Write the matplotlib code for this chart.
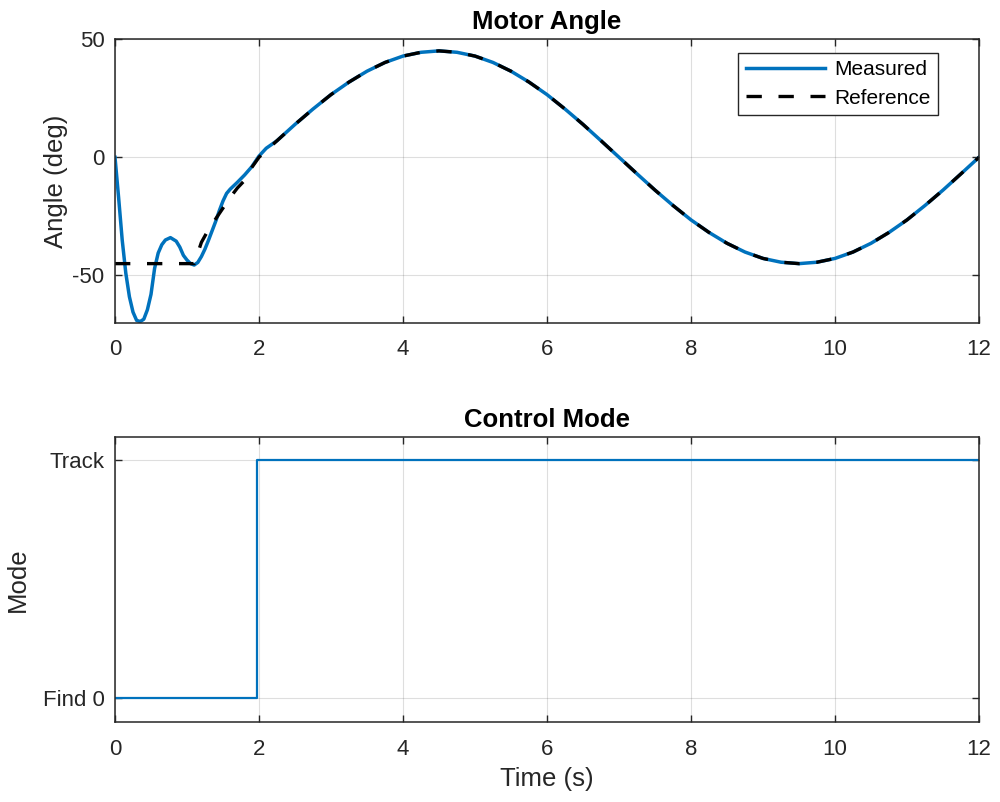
import matplotlib
matplotlib.use("Agg")
import matplotlib.pyplot as plt

plt.rcParams['font.family'] = ['Liberation Sans', 'DejaVu Sans']
plt.rcParams['axes.unicode_minus'] = False

# start-up phase (find zero)
meas_t0 = [0, 0.05, 0.1, 0.15, 0.2, 0.25, 0.3, 0.35, 0.4, 0.45, 0.5, 0.55,
           0.6, 0.65, 0.7, 0.77, 0.85, 0.9, 0.95, 1.0, 1.05, 1.1, 1.15, 1.2,
           1.25, 1.3, 1.35, 1.4, 1.45, 1.5, 1.55, 1.6, 1.7, 1.8, 1.9, 2.0, 2.1]
meas_v0 = [0, -17, -35, -49, -59, -65.5, -69, -69.5, -68.5, -64.5, -58, -47,
           -40.5, -37, -35, -34, -35.5, -38, -41.5, -43.5, -45, -45.6, -44.5, -42,
           -38.8, -35, -31, -27, -22.5, -18.5, -15.3, -13.5, -10.6, -7.5, -4, 0.5, 3.8]

ref_t0 = [0, 1.1, 1.15, 1.2, 1.3, 1.4, 1.5, 1.6, 1.7, 1.8, 1.9, 2.0, 2.1]
ref_v0 = [-45, -45, -40.5, -36, -30.5, -26, -21.5, -17, -13, -9.8, -4.3, 0, 2.8]

# tracking phase, measured and reference lie on top of each other
track_t = [2.25, 2.5, 2.75, 3.0, 3.25, 3.5, 3.75, 4.0, 4.25, 4.5, 4.75, 5.0,
           5.25, 5.5, 5.75, 6.0, 6.25, 6.5, 6.75, 7.0, 7.25, 7.5, 7.75, 8.0,
           8.25, 8.5, 8.75, 9.0, 9.25, 9.5, 9.75, 10.0, 10.25, 10.5, 10.75, 11.0,
           11.25, 11.5, 11.75, 12.0]
track_v = [7.0, 13.9, 20.4, 26.5, 31.8, 36.4, 40.1, 42.8, 44.4, 45.0, 44.4, 42.8,
           40.1, 36.4, 31.8, 26.5, 20.4, 13.9, 7.0, 0.0, -7.0, -13.9, -20.4, -26.5,
           -31.8, -36.4, -40.1, -42.8, -44.4, -45.0, -44.4, -42.8, -40.1, -36.4, -31.8, -26.5,
           -20.4, -13.9, -7.0, 0.0]

meas_t = meas_t0 + track_t
meas_v = meas_v0 + track_v
ref_t = ref_t0 + track_t
ref_v = ref_v0 + track_v

mode_t = [0, 1.97, 12]
mode_v = [0, 1, 1]
mode_labels = ['Find 0', 'Track']

blue = '#0072BD'
dark = '#262626'

fig = plt.figure(figsize=(10, 8.02), dpi=100)
ax1 = fig.add_axes([0.115, 0.5976, 0.864, 0.3537])
ax2 = fig.add_axes([0.115, 0.0994, 0.864, 0.3561])

ax1.plot(meas_t, meas_v, color=blue, lw=2.5, label='Measured')
ax1.plot(ref_t, ref_v, color='black', lw=2.4, ls=(0, (4.6, 5.0)), label='Reference')
ax1.set_xlim(0, 12)
ax1.set_ylim(-70, 50)
ax1.set_yticks([-50, 0, 50])
ax1.set_title('Motor Angle', fontsize=18.5, fontweight='bold', color='black', pad=7)
ax1.set_ylabel('Angle (deg)', fontsize=18.5, color=dark, labelpad=3)
leg = ax1.legend(loc='upper right', bbox_to_anchor=(0.9525, 0.9507), borderaxespad=0,
                 fontsize=15, handlelength=3.8, handletextpad=0.45, labelspacing=0.45,
                 fancybox=False, framealpha=1, edgecolor=dark, borderpad=0.35)
leg.get_frame().set_linewidth(1.0)

ax2.plot(mode_t, mode_v, color=blue, lw=1.6, drawstyle='steps-post')
ax2.set_xlim(0, 12)
ax2.set_ylim(-0.1, 1.1)
ax2.set_yticks([0, 1])
ax2.set_yticklabels(mode_labels)
ax2.set_title('Control Mode', fontsize=18.5, fontweight='bold', color='black', pad=7)
ax2.set_ylabel('Mode', fontsize=18.5, color=dark, labelpad=9)
ax2.set_xlabel('Time (s)', fontsize=18.5, color=dark, labelpad=5)

for ax in (ax1, ax2):
    ax.set_xticks(range(0, 13, 2))
    ax.grid(True, color=dark, alpha=0.15, lw=0.8)
    ax.set_axisbelow(True)
    ax.tick_params(direction='in', top=True, right=True, length=5, width=1.0,
                   color=dark, labelcolor=dark, labelsize=16)
    ax.tick_params(axis='x', pad=12)
    ax.tick_params(axis='y', pad=7.5)
    for s in ax.spines.values():
        s.set_color(dark)
        s.set_linewidth(1.1)

fig.savefig('out.png', dpi=100)
